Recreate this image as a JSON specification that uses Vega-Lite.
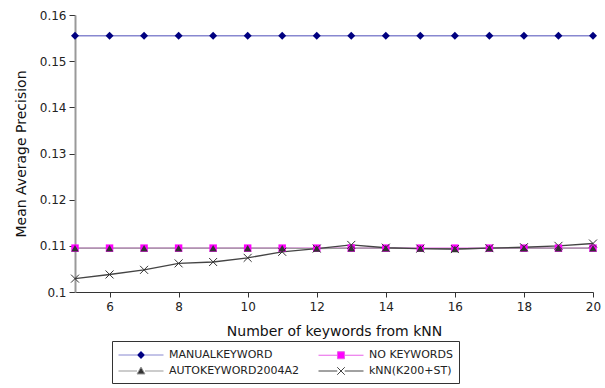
{
  "$schema": "https://vega.github.io/schema/vega-lite/v6.json",
  "width": 518,
  "height": 277,
  "autosize": {"type": "none"},
  "padding": {"left": 75, "top": 15, "right": 12, "bottom": 96},
  "background": "white",
  "config": {
    "font": "DejaVu Sans",
    "view": {"stroke": null},
    "axis": {"grid": false, "labelFont": "DejaVu Sans", "titleFont": "DejaVu Sans", "labelFontSize": 12, "titleFontSize": 14, "titleFontWeight": "normal", "labelColor": "#222", "titleColor": "#111", "tickColor": "#333", "domainColor": "#333"}
  },
  "data": {
    "values": [
      {"x": 5, "series": "MANUALKEYWORD", "v": 0.1555},
      {"x": 6, "series": "MANUALKEYWORD", "v": 0.1555},
      {"x": 7, "series": "MANUALKEYWORD", "v": 0.1555},
      {"x": 8, "series": "MANUALKEYWORD", "v": 0.1555},
      {"x": 9, "series": "MANUALKEYWORD", "v": 0.1555},
      {"x": 10, "series": "MANUALKEYWORD", "v": 0.1555},
      {"x": 11, "series": "MANUALKEYWORD", "v": 0.1555},
      {"x": 12, "series": "MANUALKEYWORD", "v": 0.1555},
      {"x": 13, "series": "MANUALKEYWORD", "v": 0.1555},
      {"x": 14, "series": "MANUALKEYWORD", "v": 0.1555},
      {"x": 15, "series": "MANUALKEYWORD", "v": 0.1555},
      {"x": 16, "series": "MANUALKEYWORD", "v": 0.1555},
      {"x": 17, "series": "MANUALKEYWORD", "v": 0.1555},
      {"x": 18, "series": "MANUALKEYWORD", "v": 0.1555},
      {"x": 19, "series": "MANUALKEYWORD", "v": 0.1555},
      {"x": 20, "series": "MANUALKEYWORD", "v": 0.1555},
      {"x": 5, "series": "NO KEYWORDS", "v": 0.1095},
      {"x": 6, "series": "NO KEYWORDS", "v": 0.1095},
      {"x": 7, "series": "NO KEYWORDS", "v": 0.1095},
      {"x": 8, "series": "NO KEYWORDS", "v": 0.1095},
      {"x": 9, "series": "NO KEYWORDS", "v": 0.1095},
      {"x": 10, "series": "NO KEYWORDS", "v": 0.1095},
      {"x": 11, "series": "NO KEYWORDS", "v": 0.1095},
      {"x": 12, "series": "NO KEYWORDS", "v": 0.1095},
      {"x": 13, "series": "NO KEYWORDS", "v": 0.1095},
      {"x": 14, "series": "NO KEYWORDS", "v": 0.1095},
      {"x": 15, "series": "NO KEYWORDS", "v": 0.1095},
      {"x": 16, "series": "NO KEYWORDS", "v": 0.1095},
      {"x": 17, "series": "NO KEYWORDS", "v": 0.1095},
      {"x": 18, "series": "NO KEYWORDS", "v": 0.1095},
      {"x": 19, "series": "NO KEYWORDS", "v": 0.1095},
      {"x": 20, "series": "NO KEYWORDS", "v": 0.1095},
      {"x": 5, "series": "AUTOKEYWORD2004A2", "v": 0.1095},
      {"x": 6, "series": "AUTOKEYWORD2004A2", "v": 0.1095},
      {"x": 7, "series": "AUTOKEYWORD2004A2", "v": 0.1095},
      {"x": 8, "series": "AUTOKEYWORD2004A2", "v": 0.1095},
      {"x": 9, "series": "AUTOKEYWORD2004A2", "v": 0.1095},
      {"x": 10, "series": "AUTOKEYWORD2004A2", "v": 0.1095},
      {"x": 11, "series": "AUTOKEYWORD2004A2", "v": 0.1095},
      {"x": 12, "series": "AUTOKEYWORD2004A2", "v": 0.1094},
      {"x": 13, "series": "AUTOKEYWORD2004A2", "v": 0.1095},
      {"x": 14, "series": "AUTOKEYWORD2004A2", "v": 0.1095},
      {"x": 15, "series": "AUTOKEYWORD2004A2", "v": 0.1094},
      {"x": 16, "series": "AUTOKEYWORD2004A2", "v": 0.1093},
      {"x": 17, "series": "AUTOKEYWORD2004A2", "v": 0.1095},
      {"x": 18, "series": "AUTOKEYWORD2004A2", "v": 0.1095},
      {"x": 19, "series": "AUTOKEYWORD2004A2", "v": 0.1095},
      {"x": 20, "series": "AUTOKEYWORD2004A2", "v": 0.1095},
      {"x": 5, "series": "kNN(K200+ST)", "v": 0.1029},
      {"x": 6, "series": "kNN(K200+ST)", "v": 0.1038},
      {"x": 7, "series": "kNN(K200+ST)", "v": 0.1048},
      {"x": 8, "series": "kNN(K200+ST)", "v": 0.1062},
      {"x": 9, "series": "kNN(K200+ST)", "v": 0.1065},
      {"x": 10, "series": "kNN(K200+ST)", "v": 0.1074},
      {"x": 11, "series": "kNN(K200+ST)", "v": 0.1087},
      {"x": 12, "series": "kNN(K200+ST)", "v": 0.1094},
      {"x": 13, "series": "kNN(K200+ST)", "v": 0.1102},
      {"x": 14, "series": "kNN(K200+ST)", "v": 0.1096},
      {"x": 15, "series": "kNN(K200+ST)", "v": 0.1094},
      {"x": 16, "series": "kNN(K200+ST)", "v": 0.1093},
      {"x": 17, "series": "kNN(K200+ST)", "v": 0.1095},
      {"x": 18, "series": "kNN(K200+ST)", "v": 0.1097},
      {"x": 19, "series": "kNN(K200+ST)", "v": 0.1100},
      {"x": 20, "series": "kNN(K200+ST)", "v": 0.1105}
    ]
  },
  "encoding": {
    "x": {
      "field": "x", "type": "quantitative",
      "scale": {"domain": [5, 20], "nice": false, "zero": false},
      "axis": {"title": "Number of keywords from kNN", "values": [6, 8, 10, 12, 14, 16, 18, 20], "tickSize": 5, "labelPadding": 4, "titlePadding": 12, "labelFlush": false}
    },
    "y": {
      "field": "v", "type": "quantitative",
      "scale": {"domain": [0.1, 0.16], "nice": false, "zero": false},
      "axis": {"title": "Mean Average Precision", "values": [0.1, 0.11, 0.12, 0.13, 0.14, 0.15, 0.16], "format": ".2~f", "tickSize": 6, "labelPadding": 3, "titlePadding": 11, "domainColor": "#999", "domainWidth": 2, "labelFlush": false}
    }
  },
  "layer": [
    {
      "mark": {"type": "line", "strokeWidth": 1.4},
      "encoding": {
        "stroke": {
          "field": "series", "type": "nominal",
          "scale": {"domain": ["MANUALKEYWORD", "NO KEYWORDS", "AUTOKEYWORD2004A2", "kNN(K200+ST)"], "range": ["#8888d0", "#e860e8", "#999999", "#444444"]},
          "legend": {
            "title": null,
            "orient": "none",
            "legendX": 37,
            "legendY": 326,
            "columns": 2,
            "direction": "horizontal",
            "gridAlign": "all",
            "columnPadding": 16,
            "rowPadding": 2,
            "padding": 6,
            "strokeColor": "#333",
            "fillColor": "white",
            "symbolSize": 225,
            "symbolOffset": 15,
            "labelOffset": 20,
            "labelFont": "DejaVu Sans",
            "labelFontSize": 11,
            "labelColor": "#222",
            "symbolStrokeWidth": 1,
            "encode": {
              "symbols": {
                "update": {
                  "shape": {"signal": "datum.value === 'MANUALKEYWORD' ? 'M-3,0H-0.53M0.53,0H3M-0.53,0L0,-0.53L0.53,0L0,0.53Z' : datum.value === 'NO KEYWORDS' ? 'M-3,0H-0.47M0.47,0H3M-0.47,-0.47H0.47V0.47H-0.47Z' : datum.value === 'AUTOKEYWORD2004A2' ? 'M-3,0H-0.53M0.53,0H3M0,-0.53L0.53,0.4L-0.53,0.4Z' : 'M-3,0H-0.5M0.5,0H3M-0.5,-0.5L0.5,0.5M-0.5,0.5L0.5,-0.5'"},
                  "fill": {"signal": "datum.value === 'MANUALKEYWORD' ? '#000080' : datum.value === 'NO KEYWORDS' ? '#ff00ff' : datum.value === 'AUTOKEYWORD2004A2' ? '#333333' : 'transparent'"},
                  "strokeWidth": {"value": 1},
                  "opacity": {"value": 1}
                }
              }
            }
          }
        }
      }
    },
    {
      "transform": [{"filter": "datum.series === 'MANUALKEYWORD'"}],
      "mark": {"type": "point", "filled": true, "size": 64, "shape": "diamond", "fill": "#000080", "opacity": 1}
    },
    {
      "transform": [{"filter": "datum.series === 'NO KEYWORDS'"}],
      "mark": {"type": "point", "filled": true, "size": 56, "shape": "square", "fill": "#ff00ff", "opacity": 1}
    },
    {
      "transform": [{"filter": "datum.series === 'AUTOKEYWORD2004A2'"}],
      "mark": {"type": "point", "filled": true, "size": 56, "shape": "triangle-up", "fill": "#333333", "opacity": 1}
    },
    {
      "transform": [{"filter": "datum.series === 'kNN(K200+ST)'"}],
      "mark": {"type": "point", "filled": false, "size": 64, "shape": "M-1,-1L1,1M-1,1L1,-1", "stroke": "#333333", "strokeWidth": 1, "opacity": 1}
    }
  ]
}
